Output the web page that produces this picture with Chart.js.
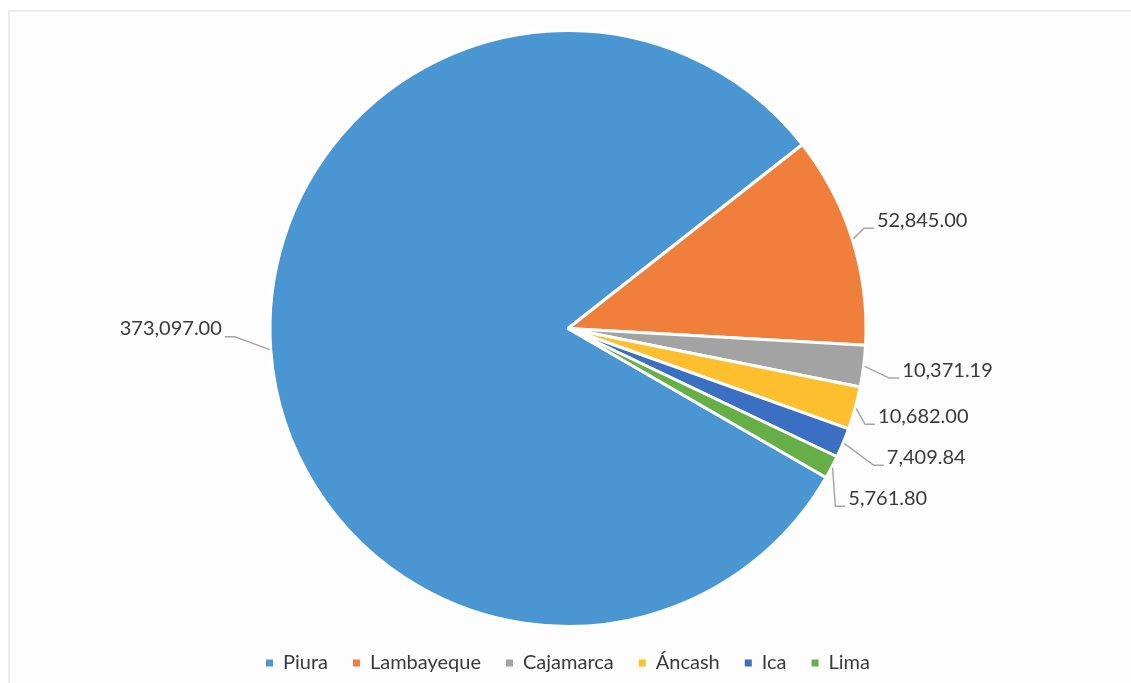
<!DOCTYPE html>
<html>
<head>
<meta charset="utf-8">
<script src="https://cdn.jsdelivr.net/npm/chart.js@4/dist/chart.umd.min.js"></script>
<style>
  html, body { margin: 0; padding: 0; background: #fff; overflow: hidden; }
  #frame {
    position: absolute; left: 8px; top: 10px; width: 1200px; height: 800px;
    border-left: 2px solid #ececec; border-top: 2px solid #ececec; background: #fdfdfd;
  }
  #wrap { position: absolute; left: 0; top: 0; width: 1131px; height: 683px; }
</style>
</head>
<body>
<div id="frame"></div>
<div id="wrap"><canvas id="pieRegiones"></canvas></div>
<script>
// datos
const regiones = ["Piura", "Lambayeque", "Cajamarca", "Áncash", "Ica", "Lima"];
const valores = [373097.00, 52845.00, 10371.19, 10682.00, 7409.84, 5761.80];
const colores = ["#4a96d2", "#ef7f3a", "#a3a3a3", "#fdbf2d", "#3a6fc2", "#66ae46"];

const fmt = (v) => v.toLocaleString("en-US", { minimumFractionDigits: 2, maximumFractionDigits: 2 });

// etiquetas con líneas guía, estilo Excel
const leaderLabels = {
  id: "leaderLabels",
  afterDatasetsDraw(chart, args, opts) {
    const ctx = chart.ctx;
    const meta = chart.getDatasetMeta(0);
    const items = meta.data.map((arc, i) => {
      const p = arc.getProps(["x", "y", "startAngle", "endAngle", "outerRadius"], true);
      const mid = (p.startAngle + p.endAngle) / 2;
      const c = Math.cos(mid), s = Math.sin(mid);
      const shift = opts.shift[i] || [0, 0];
      return {
        i,
        right: c >= 0,
        ax: p.x + c * (p.outerRadius + 1),
        ay: p.y + s * (p.outerRadius + 1),
        lx: p.x + c * (p.outerRadius + opts.offset) + shift[0],
        ly: p.y + s * (p.outerRadius + opts.offset) + shift[1],
      };
    });

    // separar etiquetas del lado derecho
    const right = items.filter(d => d.right).sort((a, b) => a.ly - b.ly);
    for (let k = 1; k < right.length; k++) {
      right[k].ly = Math.max(right[k].ly, right[k - 1].ly + opts.gap);
    }

    ctx.save();
    ctx.font = opts.font;
    ctx.textBaseline = "middle";
    items.forEach(d => {
      const dir = d.right ? 1 : -1;
      const lineY = d.ly + 8;
      ctx.strokeStyle = opts.lineColor;
      ctx.lineWidth = 1.5;
      ctx.beginPath();
      ctx.moveTo(d.ax, d.ay);
      ctx.lineTo(d.lx - 4 * dir, lineY);
      ctx.lineTo(d.lx + 6 * dir, lineY);
      ctx.stroke();

      ctx.fillStyle = opts.color;
      ctx.textAlign = d.right ? "left" : "right";
      ctx.fillText(fmt(valores[d.i]), d.lx + 9 * dir, d.ly);
    });
    ctx.restore();
  }
};

const canvas = document.getElementById("pieRegiones");
const ctx = canvas.getContext("2d");

new Chart(ctx, {
  type: "pie",
  data: {
    labels: regiones,
    datasets: [{
      data: valores,
      backgroundColor: colores,
      borderColor: "#ffffff",
      borderWidth: 3,
      hoverOffset: 0,
    }],
  },
  options: {
    responsive: true,
    maintainAspectRatio: false,
    animation: false,
    rotation: 120,
    layout: { padding: { top: 29, left: 5, right: 0, bottom: 0 } },
    plugins: {
      tooltip: { enabled: false },
      legend: {
        position: "bottom",
        maxHeight: 60,
        labels: {
          font: { family: "Lato", size: 20 },
          color: "#3a3a3a",
          usePointStyle: true,
          pointStyle: "rect",
          boxWidth: 7,
          boxHeight: 7,
          padding: 25,
          generateLabels(chart) {
            const items = Chart.overrides.doughnut.plugins.legend.labels.generateLabels(chart);
            items.forEach(it => { it.lineWidth = 0; it.strokeStyle = it.fillStyle; });
            return items;
          },
        },
      },
      leaderLabels: {
        offset: 30,
        gap: 41,
        font: "20px Lato",
        color: "#3a3a3a",
        lineColor: "#a6a6a6",
        shift: { 0: [-10, -23], 1: [-13, -10], 3: [-15, 0], 4: [7, 0], 5: [-19, 0] },
      },
    },
  },
  plugins: [leaderLabels],
});
</script>
</body>
</html>
